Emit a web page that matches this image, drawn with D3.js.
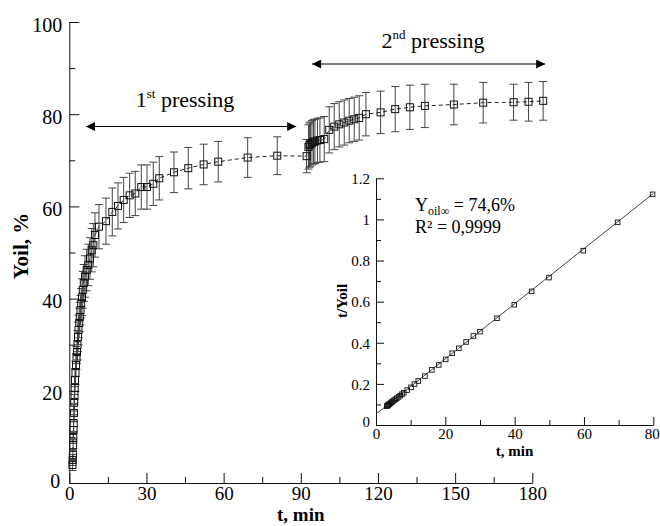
<!DOCTYPE html>
<html><head><meta charset="utf-8">
<script src="https://cdnjs.cloudflare.com/ajax/libs/d3/7.8.5/d3.min.js"></script>
<style>
html,body{margin:0;padding:0;background:#fff;}
svg{display:block;}
text{font-family:"Liberation Serif","Times New Roman",serif;fill:#000;}
</style></head>
<body>
<svg id="chart" width="660" height="526"></svg>
<script>
// ---------- Main chart data: first pressing ----------
const firstT = [1.24,1.32,1.40,1.48,1.55,1.63,1.71,1.83,1.90,2.02,2.10,2.22,2.41,2.60,2.80,2.99,3.19,3.38,3.58,3.85,4.08,4.35,4.62,4.94,5.25,5.64,6.10,6.76,7.38,8.04,8.71,9.33,9.99,11.54,14.26,16.71,18.93,21.14,23.47,25.65,27.98,30.20,32.65,34.98,40.69,46.25,52.23,57.91,69.34,80.84];
const firstY = [3.9,5.0,6.1,8.2,9.8,11.5,13.0,15.2,17.4,19.1,20.6,22.3,23.9,25.6,27.1,28.4,29.9,31.7,33.2,34.7,36.0,37.5,39.0,40.3,41.9,43.4,44.8,46.2,47.3,48.7,50.5,51.6,53.8,55.6,56.8,58.8,60.1,61.4,62.4,62.8,64.2,64.2,64.9,66.1,67.4,68.3,69.1,69.7,70.6,71.0];
const firstErr = [1.2,1.2,1.2,1.2,1.2,1.8,1.8,1.8,1.8,1.8,2.5,2.5,2.5,2.5,2.5,2.5,3.2,3.2,3.2,3.2,3.2,3.2,3.2,4.0,4.0,4.0,4.5,4.5,4.5,4.5,4.7,4.7,4.8,4.8,5.0,5.2,5.0,4.9,4.8,4.8,4.8,4.8,4.7,4.7,4.4,4.5,4.4,4.4,4.3,4.1];
// ---------- Main chart data: second pressing ----------
const secondT = [92.26,92.97,93.35,93.74,94.33,94.91,95.49,96.46,97.44,99.11,101.05,102.99,104.94,106.88,108.82,110.77,112.71,115.31,121.03,126.70,132.41,138.24,149.51,160.90,172.72,178.55,184.22];
const secondY = [70.9,72.9,73.3,73.5,73.8,74.0,74.1,74.3,74.4,74.6,76.6,77.3,77.8,78.2,78.6,78.9,79.2,80.0,80.4,81.1,81.5,81.8,82.1,82.5,82.6,82.7,82.9];
const secondErr = [3.6,4.8,4.8,4.8,4.8,4.8,4.8,4.8,4.8,4.9,5.0,5.0,4.9,4.9,4.8,4.8,4.8,4.7,4.6,4.9,4.8,4.7,4.4,4.4,3.9,4.2,4.2];
// ---------- Main axes ticks ----------
const mainXTicks = [0,30,60,90,120,150,180];
const mainXMinor = [15,45,75,105,135,165];
const mainYTicks = [0,20,40,60,80,100];
const mainYMinor = [10,30,50,70,90];
// ---------- Inset data (t / Yoil linearisation) ----------
const insetT = [3.1,3.3,3.5,3.7,3.9,4.2,4.5,4.8,5.2,5.6,6.0,6.5,7.0,7.5,8.0,9.0,10.1,11.1,12.2,14.1,16.1,18.1,20.1,22.0,23.9,26.0,28.1,30.0,34.9,39.9,44.9,49.9,59.8,69.7,79.8];
const insetV = [0.092,0.094,0.097,0.100,0.102,0.107,0.111,0.115,0.120,0.125,0.130,0.137,0.143,0.150,0.157,0.170,0.183,0.199,0.214,0.238,0.268,0.292,0.319,0.349,0.373,0.404,0.433,0.454,0.519,0.585,0.650,0.717,0.848,0.986,1.122];
const fitIntercept = 0.0535;
const fitYinf = 74.6;   // %
const fitEndT = 80;
const insetXTicks = [0,20,40,60,80];
const insetXMinor = [10,30,50,70];
const insetYTicks = [0,0.2,0.4,0.6,0.8,1,1.2];
const insetYMinor = [0.1,0.3,0.5,0.7,0.9,1.1];

const svg = d3.select("#chart");

// ================= MAIN CHART =================
const x = d3.scaleLinear().domain([0,180]).range([69.3,532.3]);
const y = d3.scaleLinear().domain([0,100]).range([483,22]);

const gx = svg.append("g").attr("transform","translate(0,483)");
gx.call(d3.axisBottom(x).tickValues(mainXTicks).tickSize(-10).tickSizeOuter(0).tickPadding(3).tickFormat(d3.format("d")));
svg.append("g").attr("transform","translate(0,483)")
  .call(d3.axisBottom(x).tickValues(mainXMinor).tickSize(-6).tickSizeOuter(0).tickFormat(""))
  .select(".domain").remove();
gx.selectAll("text").attr("font-size",19).attr("font-family","Liberation Serif");

const gy = svg.append("g").attr("transform","translate(69.3,0)");
gy.call(d3.axisLeft(y).tickValues(mainYTicks).tickSize(-10).tickSizeOuter(0).tickPadding(7).tickFormat(d3.format("d")));
svg.append("g").attr("transform","translate(69.3,0)")
  .call(d3.axisLeft(y).tickValues(mainYMinor).tickSize(-6).tickSizeOuter(0).tickFormat(""))
  .select(".domain").remove();
gy.selectAll("text").attr("font-size",20).attr("font-family","Liberation Serif").attr("dy","0.45em");
gy.selectAll(".tick").filter(d=>d===0).select("text").attr("dy","0.2em").attr("x",-9);

svg.selectAll(".domain").attr("stroke","#111");
svg.selectAll(".tick line").attr("stroke","#111");

svg.append("text").attr("x",300.8).attr("y",521).attr("text-anchor","middle")
  .attr("font-size",19).attr("font-weight","bold").text("t, min");
svg.append("text").attr("transform","translate(28,246) rotate(-90)").attr("text-anchor","middle")
  .attr("font-size",21).attr("font-weight","bold").text("Yoil, %");

const mainPts = firstT.map((t,i)=>({t, v:firstY[i], e:firstErr[i]}))
  .concat(secondT.map((t,i)=>({t, v:secondY[i], e:secondErr[i]})));

// dashed connecting line
svg.append("path").datum(mainPts)
  .attr("d", d3.line().x(d=>x(d.t)).y(d=>y(d.v)))
  .attr("fill","none").attr("stroke","#222").attr("stroke-width",1).attr("stroke-dasharray","4,3");

// error bars
const eb = svg.append("g").attr("stroke","#444").attr("stroke-width",1);
mainPts.forEach(d=>{
  const cx = x(d.t), y1 = y(d.v + d.e), y2 = y(d.v - d.e);
  eb.append("line").attr("x1",cx).attr("x2",cx).attr("y1",y1).attr("y2",y2);
  eb.append("line").attr("x1",cx-4).attr("x2",cx+4).attr("y1",y1).attr("y2",y1);
  eb.append("line").attr("x1",cx-4).attr("x2",cx+4).attr("y1",y2).attr("y2",y2);
});

// square markers
svg.append("g").selectAll("rect").data(mainPts).join("rect")
  .attr("x",d=>x(d.t)-3.5).attr("y",d=>y(d.v)-3.5).attr("width",7).attr("height",7)
  .attr("fill","none").attr("stroke","#111").attr("stroke-width",1);

// arrows + labels
const defs = svg.append("defs");
defs.append("marker").attr("id","ah").attr("viewBox","0 0 10 10").attr("refX",10).attr("refY",5)
  .attr("markerWidth",11).attr("markerHeight",9).attr("markerUnits","userSpaceOnUse").attr("orient","auto-start-reverse")
  .append("path").attr("d","M0,0 L10,5 L0,10 Z").attr("fill","#000");

function arrow(t1,t2,py){
  svg.append("line").attr("x1",x(t1)).attr("x2",x(t2)).attr("y1",py).attr("y2",py)
    .attr("stroke","#000").attr("stroke-width",1)
    .attr("marker-start","url(#ah)").attr("marker-end","url(#ah)");
}
const arrow1 = [6.5, 88.2];
const arrow2 = [94.4, 185.0];
arrow(arrow1[0], arrow1[1], 126.5);
arrow(arrow2[0], arrow2[1], 64);

function pressLabel(cx, by, num, sup){
  const t = svg.append("text").attr("x",cx).attr("y",by).attr("text-anchor","middle").attr("font-size",22);
  t.append("tspan").text(num);
  t.append("tspan").attr("font-size",13).attr("dy",-9).text(sup);
  t.append("tspan").attr("dy",9).text(" pressing");
}
pressLabel(185, 107, "1", "st");
pressLabel(433, 48, "2", "nd");

// ================= INSET =================
const ix = d3.scaleLinear().domain([0,80]).range([376,653.3]);
const iy = d3.scaleLinear().domain([0,1.2]).range([425,178.3]);

const igx = svg.append("g").attr("transform","translate(0,425)");
igx.call(d3.axisBottom(ix).tickValues(insetXTicks).tickSize(-8).tickSizeOuter(0).tickPadding(3).tickFormat(d3.format("d")));
svg.append("g").attr("transform","translate(0,425)")
  .call(d3.axisBottom(ix).tickValues(insetXMinor).tickSize(-5).tickSizeOuter(0).tickFormat(""))
  .select(".domain").remove();
igx.selectAll("text").attr("font-size",15).attr("font-family","Liberation Serif");
igx.selectAll(".tick").filter(d=>d===80).select("text").attr("dx",-1.5);

const igy = svg.append("g").attr("transform","translate(376,0)");
igy.call(d3.axisLeft(iy).tickValues(insetYTicks).tickSize(-8).tickSizeOuter(0).tickPadding(6).tickFormat(d=>d3.format("~g")(d)));
svg.append("g").attr("transform","translate(376,0)")
  .call(d3.axisLeft(iy).tickValues(insetYMinor).tickSize(-5).tickSizeOuter(0).tickFormat(""))
  .select(".domain").remove();
igy.selectAll("text").attr("font-size",15).attr("font-family","Liberation Serif").attr("dy","0.35em");
igy.selectAll(".tick").filter(d=>d===0).select("text").attr("dy","0.1em");

svg.selectAll(".domain").attr("stroke","#111");
svg.selectAll(".tick line").attr("stroke","#111");

svg.append("text").attr("x",514.6).attr("y",456).attr("text-anchor","middle")
  .attr("font-size",15).attr("font-weight","bold").text("t, min");
svg.append("text").attr("transform","translate(347,301) rotate(-90)").attr("text-anchor","middle")
  .attr("font-size",15).attr("font-weight","bold").text("t/Yoil");

// fit line
svg.append("line")
  .attr("x1",ix(0)).attr("y1",iy(fitIntercept))
  .attr("x2",ix(fitEndT)).attr("y2",iy(fitIntercept + fitEndT/fitYinf))
  .attr("stroke","#444").attr("stroke-width",1);

svg.append("g").selectAll("rect").data(insetT.map((t,i)=>({t,v:insetV[i]}))).join("rect")
  .attr("x",d=>ix(d.t)-2.3).attr("y",d=>iy(d.v)-2.3).attr("width",4.6).attr("height",4.6)
  .attr("fill","none").attr("stroke","#111").attr("stroke-width",0.9);

// annotation
const a1 = svg.append("text").attr("x",415).attr("y",211).attr("font-size",18);
a1.append("tspan").text("Y");
a1.append("tspan").attr("font-size",12).attr("dy",4).text("oil∞");
a1.append("tspan").attr("dy",-4).text(" = 74,6%");
svg.append("text").attr("x",415).attr("y",233).attr("font-size",18).text("R² = 0,9999");
</script>
</body></html>
